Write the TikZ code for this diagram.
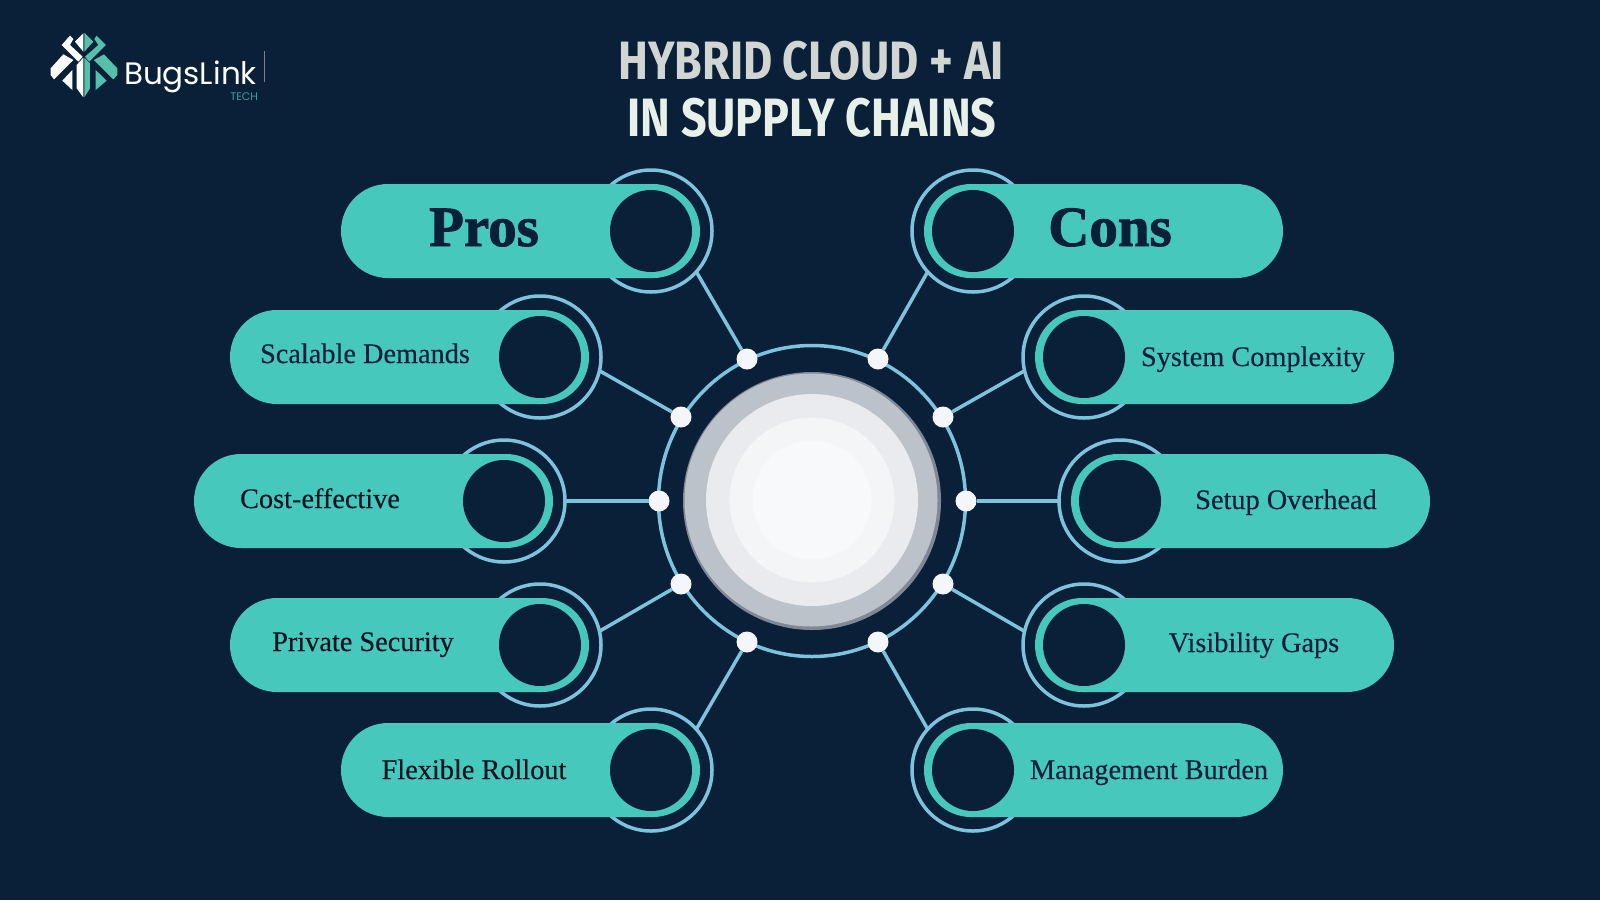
\documentclass[tikz,border=0pt]{standalone}
\usepackage{fontspec}
\setmainfont{Liberation Serif}
\newfontfamily\headfont[FakeBold=1.5]{Liberation Serif Bold}
\newfontfamily\labelfont[FakeBold=.25]{Liberation Serif}
\newfontfamily\titlefont[FakeStretch=.83]{Fira Sans}
\newfontfamily\logofont{Poppins}
\usetikzlibrary{shapes.misc,shapes.geometric}
\definecolor{navy}{HTML}{0A1F38}
\definecolor{teal}{HTML}{46C8BC}
\definecolor{sky}{HTML}{7CC3DD}
\definecolor{snow}{HTML}{F5F6FA}
\definecolor{mintlogo}{HTML}{55C0AC}
\definecolor{techlogo}{HTML}{3AA595}
\definecolor{diskedge}{HTML}{7F8894}
\definecolor{diskgrey}{HTML}{BBC2C9}
\definecolor{diskpale}{HTML}{E9EBEE}
\definecolor{disklight}{HTML}{F4F5F7}
\definecolor{diskwhite}{HTML}{F8F9FB}
\definecolor{inkdark}{HTML}{061222}
\definecolor{titlegrey}{HTML}{D2D6D3}
\definecolor{titlepale}{HTML}{E8F0EA}
\begin{document}
\begin{tikzpicture}
[x=1pt,y=-1pt,
every node/.style={inner sep=0pt,outer sep=0pt},
ringbox/.style={draw=sky,line width=3.5pt,circle,minimum size=122pt},
pillbox/.style={rounded rectangle,fill=teal,minimum width=359pt,minimum height=94pt},
holebox/.style={circle,fill=navy,minimum size=82pt},
dotbox/.style={circle,fill=snow,minimum size=21pt},
diskbox/.style={circle,minimum size=#1},
labelbox/.style={anchor=base,font=\labelfont\fontsize{28.3}{30}\selectfont,text=navy},
headbox/.style={anchor=base,font=\headfont\fontsize{57}{57}\selectfont,text=navy},
titlebox/.style={anchor=base,font=\titlefont\fontsize{54}{54}\selectfont\bfseries},
link/.style={draw=sky,line width=3.5pt}]
\useasboundingbox[fill=navy] (0,0) rectangle (1600,900);

% logo
\begin{scope}[shift={(30,20)},x=.3333pt,y=-.3333pt]
\fill[white] (160,40) -- (135,65) -- (160,95) -- cycle;
\fill[mintlogo] (163,38) -- (190,65) -- (163,95) -- cycle;
\fill[white] (120,47) -- (95,75) -- (145,125) -- (158,110) -- (120,75) -- (130,57) -- cycle;
\fill[mintlogo] (200,47) -- (228,75) -- (178,125) -- (165,110) -- (205,75) -- (193,57) -- cycle;
\fill[white] (100,103) -- (62,145) -- (62,165) -- (72,178) -- (130,120) -- cycle;
\fill[mintlogo] (222,103) -- (262,145) -- (262,165) -- (250,178) -- (192,120) -- cycle;
\fill[white] (127,150) -- (97,182) -- (127,210) -- cycle;
\fill[mintlogo] (197,150) -- (230,182) -- (197,210) -- cycle;
\fill[white] (160,113) -- (140,135) -- (140,205) -- (160,232) -- cycle;
\fill[mintlogo] (163,113) -- (180,130) -- (180,205) -- (163,232) -- cycle;
\end{scope}
\node[anchor=base west,text=white,font=\logofont\fontsize{31}{31}\selectfont] (logoText) at (124,84) {BugsLink};
\node[anchor=base east,text=techlogo,font=\logofont\fontsize{11}{11}\selectfont] (logoTech) at (258,100) {TECH};
\coordinate (barTop) at (264,51);
\coordinate (barEnd) at (264,82);
\draw[gray,line width=.8pt] (barTop) -- (barEnd);

% title
\node[titlebox,text=titlegrey] (titleOne) at (811,79) {HYBRID CLOUD + AI};
\node[titlebox,text=titlepale] (titleTwo) at (812,136) {IN SUPPLY CHAINS};

% hub
\node[draw=sky,line width=3.5pt,ellipse,minimum width=307pt,minimum height=311pt] (hubRing) at (812,501) {};
\node[diskbox=258pt,fill=diskedge] (diskOne) at (812,501) {};
\node[diskbox=253pt,fill=diskgrey] (diskTwo) at (811,500) {};
\node[diskbox=212pt,fill=diskpale] (diskThree) at (812,500) {};
\node[diskbox=165pt,fill=disklight] (diskFour) at (812,500) {};
\node[diskbox=119pt,fill=diskwhite] (diskFive) at (812,500) {};

\node[dotbox] (dotPros) at (747,359) {};
\node[dotbox] (dotScalable) at (681,417) {};
\node[dotbox] (dotCost) at (659,501) {};
\node[dotbox] (dotPrivate) at (681,584) {};
\node[dotbox] (dotFlexible) at (747,642) {};
\node[dotbox] (dotCons) at (878,359) {};
\node[dotbox] (dotSystem) at (943,417) {};
\node[dotbox] (dotSetup) at (966,501) {};
\node[dotbox] (dotVisibility) at (943,584) {};
\node[dotbox] (dotManagement) at (878,642) {};

% left side
\node[ringbox] (ringPros) at (651,231) {};
\node[pillbox] (pillPros) at (520.5,231) {};
\node[holebox] (holePros) at (651,231) {};
\node[headbox] (textPros) at (484,246) {Pros};
\node[ringbox] (ringScalable) at (540,357) {};
\node[pillbox] (pillScalable) at (409.5,357) {};
\node[holebox] (holeScalable) at (540,357) {};
\node[labelbox] (textScalable) at (365,363) {Scalable Demands};
\node[ringbox] (ringCost) at (504,501) {};
\node[pillbox] (pillCost) at (373.5,501) {};
\node[holebox] (holeCost) at (504,501) {};
\node[labelbox,text=inkdark] (textCost) at (320,508) {Cost-effective};
\node[ringbox] (ringPrivate) at (540,645) {};
\node[pillbox] (pillPrivate) at (409.5,645) {};
\node[holebox] (holePrivate) at (540,645) {};
\node[labelbox,text=inkdark] (textPrivate) at (363,651) {Private Security};
\node[ringbox] (ringFlexible) at (651,770) {};
\node[pillbox] (pillFlexible) at (520.5,770) {};
\node[holebox] (holeFlexible) at (651,770) {};
\node[labelbox,text=inkdark] (textFlexible) at (474,779) {Flexible Rollout};

% right side
\node[ringbox] (ringCons) at (973,231) {};
\node[pillbox] (pillCons) at (1103.5,231) {};
\node[holebox] (holeCons) at (973,231) {};
\node[headbox] (textCons) at (1110,246) {Cons};
\node[ringbox] (ringSystem) at (1084,357) {};
\node[pillbox] (pillSystem) at (1214.5,357) {};
\node[holebox] (holeSystem) at (1084,357) {};
\node[labelbox] (textSystem) at (1253,366) {System Complexity};
\node[ringbox] (ringSetup) at (1120,501) {};
\node[pillbox] (pillSetup) at (1250.5,501) {};
\node[holebox] (holeSetup) at (1120,501) {};
\node[labelbox] (textSetup) at (1286,509) {Setup Overhead};
\node[ringbox] (ringVisibility) at (1084,645) {};
\node[pillbox] (pillVisibility) at (1214.5,645) {};
\node[holebox] (holeVisibility) at (1084,645) {};
\node[labelbox] (textVisibility) at (1254,652) {Visibility Gaps};
\node[ringbox] (ringManagement) at (973,770) {};
\node[pillbox] (pillManagement) at (1103.5,770) {};
\node[holebox] (holeManagement) at (973,770) {};
\node[labelbox] (textManagement) at (1149,779) {Management Burden};

% connectors
\draw[link] (ringPros.-42) -- (dotPros);
\draw[link] (ringScalable.-13) -- (dotScalable);
\draw[link] (ringCost.0) -- (dotCost);
\draw[link] (ringPrivate.13) -- (dotPrivate);
\draw[link] (ringFlexible.42) -- (dotFlexible);
\draw[link] (ringCons.-138) -- (dotCons);
\draw[link] (ringSystem.-167) -- (dotSystem);
\draw[link] (ringSetup.180) -- (dotSetup);
\draw[link] (ringVisibility.167) -- (dotVisibility);
\draw[link] (ringManagement.138) -- (dotManagement);
\end{tikzpicture}
\end{document}
